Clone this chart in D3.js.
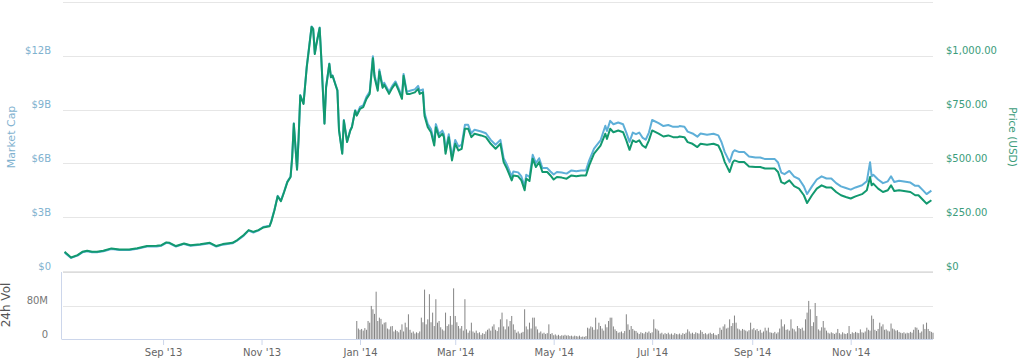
<!DOCTYPE html>
<html>
<head>
<meta charset="utf-8">
<script src="https://cdn.jsdelivr.net/npm/d3@7"></script>
<style>
  body { margin: 0; background: #fff; }
  text { font-family: "DejaVu Sans", Verdana, sans-serif; }
</style>
</head>
<body>
<div id="chart"></div>
<script>
// price / market cap readings
const priceDates = [
  "2013-07-02","2013-07-03","2013-07-06","2013-07-10","2013-07-13","2013-07-16","2013-07-19","2013-07-22","2013-07-26","2013-07-31",
  "2013-08-05","2013-08-11","2013-08-16","2013-08-22","2013-08-28","2013-08-31",
  "2013-09-03","2013-09-05","2013-09-09","2013-09-14","2013-09-18","2013-09-24","2013-09-30",
  "2013-10-04","2013-10-08","2013-10-14","2013-10-17","2013-10-21","2013-10-24","2013-10-27","2013-10-30",
  "2013-11-02","2013-11-06","2013-11-07","2013-11-09","2013-11-11","2013-11-13","2013-11-15","2013-11-17","2013-11-19","2013-11-20",
  "2013-11-21","2013-11-23","2013-11-24","2013-11-25","2013-11-27","2013-11-29","2013-11-30",
  "2013-12-02","2013-12-03","2013-12-04","2013-12-05","2013-12-07","2013-12-08","2013-12-10","2013-12-11","2013-12-13","2013-12-14",
  "2013-12-15","2013-12-17","2013-12-18","2013-12-19","2013-12-21","2013-12-22","2013-12-24","2013-12-26","2013-12-27","2013-12-29","2013-12-30",
  "2014-01-01","2014-01-03","2014-01-05","2014-01-07","2014-01-09","2014-01-10","2014-01-12","2014-01-13","2014-01-15","2014-01-16",
  "2014-01-18","2014-01-19","2014-01-21","2014-01-23","2014-01-25","2014-01-27","2014-01-28","2014-01-30",
  "2014-02-01","2014-02-04","2014-02-06","2014-02-07","2014-02-09","2014-02-10","2014-02-12","2014-02-14","2014-02-16","2014-02-17",
  "2014-02-19","2014-02-21","2014-02-22","2014-02-23","2014-02-25","2014-02-27",
  "2014-03-01","2014-03-03","2014-03-05","2014-03-07","2014-03-09","2014-03-11","2014-03-13","2014-03-17","2014-03-20","2014-03-23",
  "2014-03-26","2014-03-29","2014-03-31",
  "2014-04-02","2014-04-05","2014-04-06","2014-04-09","2014-04-11","2014-04-13","2014-04-14","2014-04-16","2014-04-18","2014-04-20",
  "2014-04-22","2014-04-24","2014-04-27","2014-04-29",
  "2014-05-01","2014-05-03","2014-05-06","2014-05-09","2014-05-12","2014-05-15","2014-05-18","2014-05-21","2014-05-23","2014-05-26","2014-05-30",
  "2014-06-02","2014-06-03","2014-06-05","2014-06-07","2014-06-10","2014-06-13","2014-06-15","2014-06-17","2014-06-19","2014-06-21",
  "2014-06-23","2014-06-25","2014-06-27","2014-06-29",
  "2014-07-01","2014-07-05","2014-07-08","2014-07-11","2014-07-14","2014-07-17","2014-07-18","2014-07-21","2014-07-23","2014-07-26",
  "2014-07-29","2014-07-31",
  "2014-08-04","2014-08-08","2014-08-11","2014-08-13","2014-08-15","2014-08-16","2014-08-18","2014-08-20","2014-08-21","2014-08-24",
  "2014-08-27","2014-08-30",
  "2014-09-03","2014-09-06","2014-09-09","2014-09-12","2014-09-15","2014-09-17","2014-09-19","2014-09-21","2014-09-24","2014-09-27","2014-09-30",
  "2014-10-03","2014-10-05","2014-10-08","2014-10-11","2014-10-14","2014-10-17","2014-10-20","2014-10-23","2014-10-26","2014-10-29",
  "2014-11-01","2014-11-04","2014-11-08","2014-11-11","2014-11-13","2014-11-14","2014-11-15","2014-11-18","2014-11-21","2014-11-24",
  "2014-11-26","2014-11-28",
  "2014-12-01","2014-12-04","2014-12-08","2014-12-11","2014-12-13","2014-12-16","2014-12-18","2014-12-21"
];

const priceUsd = [
  89,82,63,74,89,94,89,89,94,105,
  100,100,106,116,117,120,
  133,131,116,128,120,124,131,
  116,125,131,144,167,190,182,190,
  202,208,228,282,347,324,367,413,437,529,
  684,471,622,815,776,946,1008,
  1134,1124,1008,1054,1129,992,684,853,962,900,
  907,861,838,653,545,699,599,653,668,745,722,
  753,761,800,823,989,900,838,927,851,866,
  838,823,851,872,838,800,907,823,
  823,830,846,823,830,720,668,645,583,668,
  622,638,622,545,622,514,
  591,560,568,661,661,622,638,630,622,591,
  568,591,506,
  476,421,444,440,421,375,429,418,522,483,
  506,460,460,444,
  425,437,434,429,444,440,444,444,491,545,583,
  638,614,661,645,653,645,607,563,607,599,
  607,583,573,607,
  653,638,625,630,622,622,625,622,599,591,
  576,591,
  587,591,583,552,506,491,460,506,514,506,
  506,486,
  483,483,476,476,476,460,413,406,421,394,383,
  352,316,352,383,398,388,388,367,352,344,
  337,347,357,375,437,398,406,383,367,375,
  398,372,
  375,372,367,352,352,329,313,329
];

const marketCapB = [
  1.04,0.95,0.73,0.86,1.04,1.10,1.04,1.04,1.10,1.23,
  1.17,1.17,1.24,1.36,1.37,1.41,
  1.57,1.54,1.36,1.51,1.41,1.46,1.54,
  1.36,1.47,1.54,1.70,1.97,2.25,2.15,2.25,
  2.45,2.53,2.77,3.41,4.19,3.92,4.43,4.99,5.27,6.38,
  8.24,5.68,7.49,9.81,9.34,11.38,12.13,
  13.64,13.52,12.13,12.68,13.58,11.93,8.24,10.27,11.57,10.83,
  10.91,10.36,10.09,7.87,6.57,8.42,7.22,7.87,8.05,8.97,8.69,
  9.15,9.24,9.71,9.99,11.98,10.91,10.17,11.23,10.32,10.50,
  10.17,9.99,10.32,10.57,10.17,9.71,10.99,9.99,
  10.05,10.13,10.32,10.05,10.13,8.81,8.19,7.91,7.17,8.19,
  7.63,7.83,7.63,6.71,7.63,6.34,
  7.31,6.94,7.04,8.15,8.15,7.68,7.88,7.78,7.68,7.31,
  7.04,7.31,6.29,
  5.93,5.27,5.55,5.50,5.27,4.72,5.37,5.24,6.48,6.02,
  6.29,5.74,5.74,5.55,
  5.38,5.52,5.49,5.43,5.61,5.56,5.61,5.61,6.17,6.82,7.28,
  8.10,7.81,8.37,8.18,8.28,8.18,7.72,7.20,7.72,7.63,
  7.72,7.44,7.32,7.72,
  8.42,8.24,8.08,8.14,8.04,8.04,8.08,8.04,7.77,7.67,
  7.49,7.67,
  7.60,7.65,7.56,7.18,6.63,6.45,6.08,6.63,6.73,6.63,
  6.63,6.39,
  6.33,6.33,6.24,6.24,6.24,6.05,5.49,5.40,5.58,5.26,5.13,
  4.72,4.29,4.72,5.10,5.28,5.16,5.16,4.90,4.72,4.63,
  4.54,4.66,4.78,5.00,6.07,5.28,5.37,5.10,4.90,5.00,
  5.28,4.96,
  5.03,4.99,4.93,4.75,4.75,4.48,4.29,4.48
];

// daily 24h volume (millions USD), starting at volumeStart
const volumeStart = "2013-12-30";
const volumeM = [
  43,25,22,24,20,26,22,43,39,79, 71,60,113,43,51,48,35,39,40,25,
  23,30,31,18,22,19,16,22,35,18, 39,28,59,22,15,18,13,16,14,18,
  51,40,118,35,47,107,40,63,31,95, 39,43,28,23,20,63,31,35,55,34,
  121,55,40,31,25,31,20,95,23,15, 20,39,18,15,20,14,16,10,14,12,
  18,22,25,20,30,35,22,19,28,47, 63,30,23,47,30,43,55,35,22,15,
  18,13,15,17,71,30,23,39,25,51, 51,30,23,15,18,13,15,12,14,35,
  12,14,9,11,8,10,7,9,8,10, 8,9,7,8,6,8,7,6,8,5,
  6,5,7,27,25,30,28,22,51,23, 39,31,25,20,35,28,43,51,51,30,
  23,19,15,16,18,14,19,59,35,22, 31,24,20,19,15,12,16,14,13,17,
  15,18,14,16,47,25,23,20,13,15, 11,14,12,15,11,13,10,14,12,11,
  13,10,14,12,15,23,18,13,15,12, 16,14,13,21,17,12,14,11,13,15,
  12,14,10,9,12,27,22,30,35,25, 27,47,31,38,56,39,25,23,20,24,
  22,20,18,21,39,23,26,21,24,19, 22,15,18,27,20,27,16,15,14,17,
  13,16,25,47,30,35,22,23,20,47, 25,23,18,31,26,24,27,20,47,63,
  91,71,31,40,86,55,23,20,28,43, 27,20,15,13,16,14,12,15,24,14,
  11,16,13,12,14,31,12,16,14,17, 15,14,23,16,15,18,27,22,20,56,
  48,22,19,24,39,30,35,22,23,20, 18,37,25,23,20,21,17,15,14,16,
  13,15,14,17,15,22,28,27,22,15, 18,35,24,39,24,19,17,15
];

const xDomain = ["2013-07-01", "2014-12-22"];
const xTickDates = ["2013-09-01","2013-11-01","2014-01-01","2014-03-01","2014-05-01","2014-07-01","2014-09-01","2014-11-01"];
const capTicks = [0, 3, 6, 9, 12, 15];
const priceTicks = [0, 250, 500, 750, 1000];
const volTicks = [0, 80];

const W = 1024, H = 359;
const left = 63, right = 933;
const mainTop = 2, mainBottom = 271;
const volTop = 272, volBottom = 339;

const capColor = "#5eafd8", priceColor = "#12996f";
const capText = "#7fb2cf", priceText = "#3b9c7b";

const parse = d3.timeParse("%Y-%m-%d");

const series = priceDates.map((d, i) => ({ date: parse(d), price: priceUsd[i], cap: marketCapB[i] }));
const vol = volumeM.map((v, i) => ({ date: d3.timeDay.offset(parse(volumeStart), i), v: v }));

const x = d3.scaleTime().domain(xDomain.map(parse)).range([left, right]);
const yCap = d3.scaleLinear().domain([0, 15]).range([mainBottom, mainTop]);
const yPrice = d3.scaleLinear().domain([0, 1250]).range([mainBottom, mainTop]);
const yVol = d3.scaleLinear().domain([0, 160]).range([volBottom, volTop]);

const svg = d3.select("#chart")
  .append("svg")
  .attr("width", W)
  .attr("height", H);

// gridlines top panel
svg.append("g")
  .selectAll("line")
  .data(capTicks)
  .join("line")
  .attr("x1", left)
  .attr("x2", right)
  .attr("y1", d => Math.round(yCap(d)) + 0.5)
  .attr("y2", d => Math.round(yCap(d)) + 0.5)
  .attr("stroke", "#e6e6e6");

// left labels
svg.append("g")
  .selectAll("text")
  .data(capTicks.filter(d => d < 15))
  .join("text")
  .attr("x", 51)
  .attr("y", d => yCap(d) - 1.5)
  .attr("text-anchor", "end")
  .style("font-size", "10px")
  .style("fill", capText)
  .text(d => "$" + d + (d === 0 ? "" : "B"));

// right labels
const fmtPrice = d3.format("$,.2f");
svg.append("g")
  .selectAll("text")
  .data(priceTicks)
  .join("text")
  .attr("x", 946)
  .attr("y", d => yPrice(d) - 1.5)
  .style("font-size", "10px")
  .style("fill", priceText)
  .text(d => d === 0 ? "$0" : fmtPrice(d));

// volume panel frame
svg.append("line")
  .attr("x1", left).attr("x2", right)
  .attr("y1", volTop + 0.5).attr("y2", volTop + 0.5)
  .attr("stroke", "#dcdcdc");

svg.append("g")
  .selectAll("line")
  .data(volTicks.filter(d => d > 0))
  .join("line")
  .attr("x1", left)
  .attr("x2", right)
  .attr("y1", d => Math.round(yVol(d)) + 0.5)
  .attr("y2", d => Math.round(yVol(d)) + 0.5)
  .attr("stroke", "#e6e6e6");

svg.append("g")
  .selectAll("text")
  .data(volTicks)
  .join("text")
  .attr("x", 48)
  .attr("y", d => yVol(d) - 1.5)
  .attr("text-anchor", "end")
  .style("font-size", "10px")
  .style("fill", "#777")
  .text(d => d === 0 ? "0" : d + "M");

// volume bars
svg.append("g")
  .selectAll("rect")
  .data(vol.filter(d => d.date <= x.domain()[1]))
  .join("rect")
  .attr("x", d => x(d.date) - 0.5)
  .attr("width", 1)
  .attr("y", d => yVol(d.v))
  .attr("height", d => yVol(0) - yVol(d.v))
  .attr("fill", "#848484");

svg.append("line")
  .attr("x1", left - 1.5).attr("x2", left - 1.5)
  .attr("y1", volTop).attr("y2", volBottom)
  .attr("stroke", "#ccd6eb");

// x axis
const xAxis = svg.append("g")
  .attr("transform", `translate(0,${volBottom})`)
  .call(d3.axisBottom(x)
    .tickValues(xTickDates.map(parse))
    .tickSize(6)
    .tickPadding(4)
    .tickFormat(d3.timeFormat("%b '%y")));
xAxis.select(".domain").attr("stroke", "#ccd6eb").attr("d", `M${left - 1.5},0.5H${right}`);
xAxis.selectAll(".tick line").attr("stroke", "#ccd6eb");
xAxis.selectAll(".tick text")
  .style("font-size", "10px")
  .style("font-family", "DejaVu Sans, sans-serif")
  .attr("fill", "#666");

// lines
svg.append("path")
  .datum(series)
  .attr("fill", "none")
  .attr("stroke", capColor)
  .attr("stroke-width", 2)
  .attr("stroke-linejoin", "round")
  .attr("d", d3.line().x(d => x(d.date)).y(d => yCap(d.cap)));

svg.append("path")
  .datum(series)
  .attr("fill", "none")
  .attr("stroke", priceColor)
  .attr("stroke-width", 2)
  .attr("stroke-linejoin", "round")
  .attr("d", d3.line().x(d => x(d.date)).y(d => yPrice(d.price)));

// axis titles
svg.append("text")
  .attr("transform", "translate(15,137) rotate(-90)")
  .attr("text-anchor", "middle")
  .style("font-size", "11px")
  .style("fill", capText)
  .text("Market Cap");

svg.append("text")
  .attr("transform", "translate(1009,137) rotate(90)")
  .attr("text-anchor", "middle")
  .style("font-size", "10.5px")
  .style("fill", priceText)
  .text("Price (USD)");

svg.append("text")
  .attr("transform", "translate(10,305) rotate(-90)")
  .attr("text-anchor", "middle")
  .style("font-size", "12px")
  .style("fill", "#555")
  .text("24h Vol");
</script>
</body>
</html>
